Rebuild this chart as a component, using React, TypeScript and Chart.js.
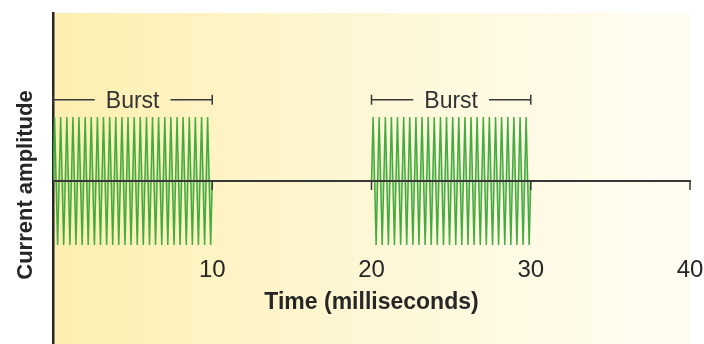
import React, { useEffect, useRef } from "react";
import { Chart, registerables } from "chart.js";

Chart.register(...registerables);

// Burst 1 (0–10 ms): carrier extremes, ms
const burst1Times = [
  0, 0.1, 0.29, 0.48, 0.67, 0.87, 1.06, 1.25, 1.44, 1.63, 1.83, 2.02, 2.21, 2.4, 2.6, 2.79, 2.98, 3.17, 3.37, 3.56,
  3.75, 3.94, 4.13, 4.33, 4.52, 4.71, 4.9, 5.1, 5.29, 5.48, 5.67, 5.87, 6.06, 6.25, 6.44, 6.63, 6.83, 7.02, 7.21,
  7.4, 7.6, 7.79, 7.98, 8.17, 8.37, 8.56, 8.75, 8.94, 9.13, 9.33, 9.52, 9.71, 9.9, 10,
];
const burst1Amplitude = [
  0, 1, -1, 1, -1, 1, -1, 1, -1, 1, -1, 1, -1, 1, -1, 1, -1, 1, -1, 1, -1, 1, -1, 1, -1, 1, -1, 1, -1, 1, -1, 1, -1,
  1, -1, 1, -1, 1, -1, 1, -1, 1, -1, 1, -1, 1, -1, 1, -1, 1, -1, 1, -1, 0,
];
// Burst 2 (20–30 ms)
const burst2Times = [
  20, 20.1, 20.29, 20.48, 20.67, 20.87, 21.06, 21.25, 21.44, 21.63, 21.83, 22.02, 22.21, 22.4, 22.6, 22.79, 22.98,
  23.17, 23.37, 23.56, 23.75, 23.94, 24.13, 24.33, 24.52, 24.71, 24.9, 25.1, 25.29, 25.48, 25.67, 25.87, 26.06, 26.25,
  26.44, 26.63, 26.83, 27.02, 27.21, 27.4, 27.6, 27.79, 27.98, 28.17, 28.37, 28.56, 28.75, 28.94, 29.13, 29.33, 29.52,
  29.71, 29.9, 30,
];
const burst2Amplitude = [
  0, 1, -1, 1, -1, 1, -1, 1, -1, 1, -1, 1, -1, 1, -1, 1, -1, 1, -1, 1, -1, 1, -1, 1, -1, 1, -1, 1, -1, 1, -1, 1, -1,
  1, -1, 1, -1, 1, -1, 1, -1, 1, -1, 1, -1, 1, -1, 1, -1, 1, -1, 1, -1, 0,
];

const xTickValues = [10, 20, 30, 40];
const xTickLabels = ["10", "20", "30", "40"];
const burstStarts = [0, 20];
const burstEnds = [10, 30];
const burstLabel = "Burst";
const burstBracketLevel = 1.27;
const xTitle = "Time (milliseconds)";
const yTitle = "Current amplitude";

const FONT = "'Liberation Sans', Arial, sans-serif";
const INK = "#262626";

const bgPlugin = {
  id: "bgGradient",
  beforeDraw(chart: any) {
    const { ctx, chartArea } = chart;
    const g = ctx.createLinearGradient(chartArea.left, 0, chartArea.right, 0);
    g.addColorStop(0, "#fdefb0");
    g.addColorStop(0.5, "#fef7d6");
    g.addColorStop(1, "#fffdf3");
    ctx.save();
    ctx.fillStyle = g;
    ctx.fillRect(chartArea.left, chartArea.top, chartArea.right - chartArea.left, chartArea.bottom - chartArea.top);
    ctx.restore();
  },
};

const axisPlugin = {
  id: "zeroAxis",
  afterDatasetsDraw(chart: any) {
    const { ctx, scales } = chart;
    const xs = scales.x;
    const ys = scales.y;
    const y0 = ys.getPixelForValue(0);
    ctx.save();
    ctx.strokeStyle = "#383838";
    ctx.lineWidth = 2;
    ctx.beginPath();
    ctx.moveTo(xs.getPixelForValue(0), y0);
    ctx.lineTo(xs.getPixelForValue(40) + 1, y0);
    ctx.stroke();
    ctx.lineWidth = 1.5;
    xTickValues.forEach((v) => {
      const px = xs.getPixelForValue(v);
      ctx.beginPath();
      ctx.moveTo(px, y0);
      ctx.lineTo(px, y0 + 9);
      ctx.stroke();
    });
    ctx.fillStyle = INK;
    ctx.font = `24px ${FONT}`;
    ctx.textAlign = "center";
    ctx.textBaseline = "alphabetic";
    xTickValues.forEach((v, i) => {
      ctx.fillText(xTickLabels[i], xs.getPixelForValue(v), 277);
    });
    ctx.font = `bold 23px ${FONT}`;
    ctx.fillText(xTitle, (xs.getPixelForValue(0) + xs.getPixelForValue(40)) / 2, 309);
    const by = ys.getPixelForValue(burstBracketLevel);
    ctx.font = `23px ${FONT}`;
    ctx.strokeStyle = "#383838";
    ctx.lineWidth = 1.5;
    burstStarts.forEach((s, i) => {
      const x1 = xs.getPixelForValue(s);
      const x2 = xs.getPixelForValue(burstEnds[i]);
      const mid = (x1 + x2) / 2;
      const half = ctx.measureText(burstLabel).width / 2 + 11;
      ctx.beginPath();
      ctx.moveTo(x1, by);
      ctx.lineTo(mid - half, by);
      ctx.moveTo(mid + half, by);
      ctx.lineTo(x2, by);
      ctx.moveTo(x1, by - 5);
      ctx.lineTo(x1, by + 5);
      ctx.moveTo(x2, by - 5);
      ctx.lineTo(x2, by + 5);
      ctx.stroke();
      ctx.fillStyle = "#333";
      ctx.fillText(burstLabel, mid, by + 8);
    });
    ctx.restore();
  },
};

export default function App() {
  const ref = useRef<HTMLCanvasElement | null>(null);
  useEffect(() => {
    if (!ref.current) return;
    const toPts = (t: number[], a: number[]) => t.map((x, i) => ({ x, y: a[i] }));
    const waveStyle = {
      borderColor: "rgba(58,168,58,0.95)",
      backgroundColor: "rgba(120,200,100,0.45)",
      borderWidth: 1.5,
      pointRadius: 0,
      tension: 0,
      fill: "origin" as const,
    };
    const chart = new Chart(ref.current, {
      type: "line",
      data: {
        datasets: [
          { label: "Burst 1", data: toPts(burst1Times, burst1Amplitude), ...waveStyle },
          { label: "Burst 2", data: toPts(burst2Times, burst2Amplitude), ...waveStyle },
        ],
      },
      options: {
        animation: false,
        responsive: false,
        devicePixelRatio: 1,
        layout: { padding: { top: 13, right: 14, left: 0, bottom: 0 } },
        plugins: { legend: { display: false }, tooltip: { enabled: false } },
        scales: {
          x: { type: "linear", min: 0, max: 40, display: false },
          y: {
            type: "linear",
            min: -2.75,
            max: 2.625,
            grid: { display: false },
            ticks: { display: false },
            border: { display: true, color: "#262626", width: 2.5 },
            title: {
              display: true,
              text: yTitle,
              color: INK,
              font: { family: FONT, size: 22, weight: "bold" },
              padding: { top: 13, bottom: 0 },
            },
            afterFit: (s: any) => {
              s.width = 53;
            },
          },
        },
      },
      plugins: [bgPlugin, axisPlugin],
    });
    return () => chart.destroy();
  }, []);
  return (
    <div style={{ position: "fixed", left: 0, top: 0, width: 704, height: 344, overflow: "hidden", background: "#fff" }}>
      <canvas ref={ref} width={704} height={357} style={{ display: "block" }} />
    </div>
  );
}
